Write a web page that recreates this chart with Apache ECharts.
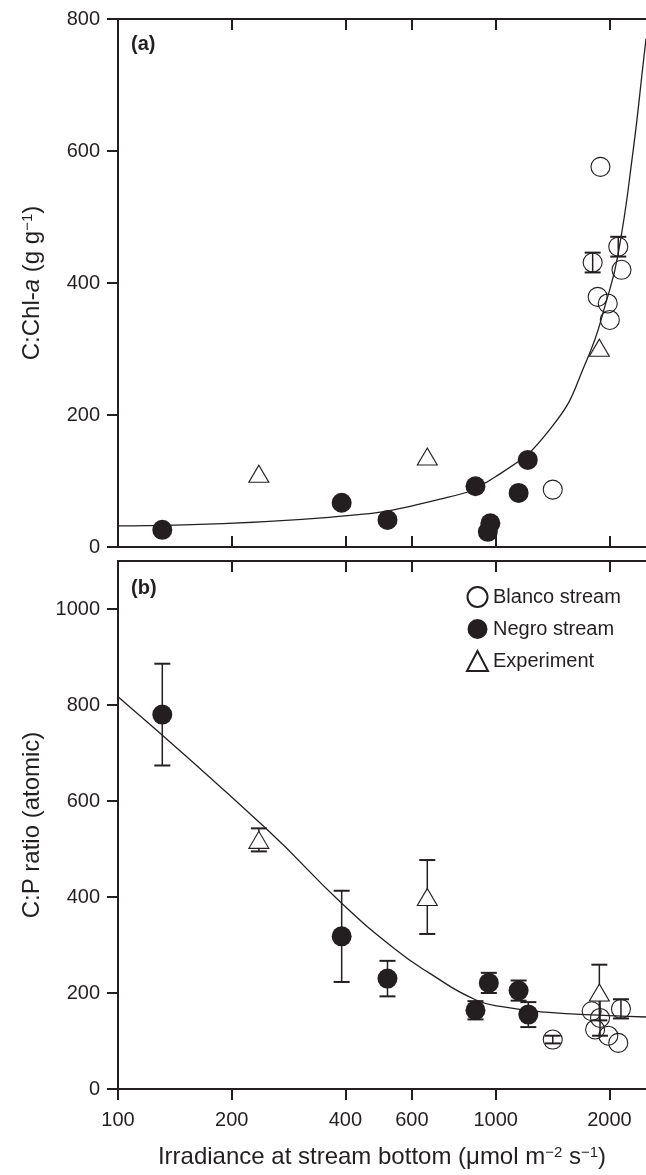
<!DOCTYPE html>
<html>
<head>
<meta charset="utf-8">
<script src="https://cdn.jsdelivr.net/npm/echarts@6/dist/echarts.min.js"></script>
<style>
  html, body { margin: 0; padding: 0; background: #ffffff; }
  #chart { width: 646px; height: 1175px; }
</style>
</head>
<body>
<div id="chart"></div>
<script>
// x values are irradiance at stream bottom (umol m-2 s-1), drawn on a log10 scale

// panel (a) C:Chl-a
const irrNegroA = [131, 391, 517, 884, 968, 953, 1150, 1216];
const chlNegro = [26, 67, 41, 92, 36, 23, 82, 132];
const irrBlancoA = [1416, 1894, 2111, 1806, 2153, 1862, 1980, 2005];
const chlBlanco = [87, 576, 455, 431, 420, 379, 369, 344];
const chlBlancoErr = [0, 0, 15, 15, 0, 0, 0, 0];
const irrExpA = [236, 659, 1881];
const chlExp = [111, 137, 302];
const fitAX = [100, 362, 707, 996, 1408, 1742, 1967, 2111, 2312, 2458, 2500];
const fitAY = [32, 45, 72, 106, 182, 283, 374, 445, 601, 733, 770];

// panel (b) C:P ratio
const irrNegroB = [131, 391, 517, 884, 959, 1150, 1220];
const cpNegro = [780, 318, 230, 164, 221, 205, 155];
const cpNegroErr = [106, 95, 37, 19, 21, 21, 26];
const irrBlancoB = [1416, 1795, 1889, 2146, 1833, 1987, 2111];
const cpBlanco = [103, 162, 148, 167, 124, 111, 96];
const cpBlancoErr = [8, 0, 37, 20, 0, 0, 0];
const irrExpB = [236, 659, 1881];
const cpExp = [519, 400, 201];
const cpExpErr = [24, 77, 58];
const fitBX = [100, 247, 391, 544, 666, 884, 1070, 1352, 2000, 2500];
const fitBY = [817, 542, 387, 290, 242, 186, 170, 160, 153, 150];

// tick labels
const xTicks = [100, 200, 400, 600, 1000, 2000];
const yTicksA = [0, 200, 400, 600, 800];
const yTicksB = [0, 200, 400, 600, 800, 1000];

const X_MIN = 100;
const X_MAX = 2500;
const INK = '#231f20';
const FONT = 'Liberation Sans';

const lg = v => Math.log10(v);
const pts = (xs, ys) => xs.map((x, i) => [lg(x), ys[i]]);
const errs = (xs, ys, es) => xs
    .map((x, i) => [lg(x), ys[i] - es[i], ys[i] + es[i]])
    .filter((d, i) => es[i] > 0);

const chart = echarts.init(document.getElementById('chart'), null, { renderer: 'canvas' });

function errRender(params, api) {
    const x = api.value(0);
    const lo = api.coord([x, api.value(1)]);
    const hi = api.coord([x, api.value(2)]);
    const w = 8;
    const cap = { stroke: INK, lineWidth: 2 };
    return {
        type: 'group',
        children: [
            { type: 'line', shape: { x1: hi[0], y1: hi[1], x2: lo[0], y2: lo[1] }, style: { stroke: INK, lineWidth: 1.5 } },
            { type: 'line', shape: { x1: hi[0] - w, y1: hi[1], x2: hi[0] + w, y2: hi[1] }, style: cap },
            { type: 'line', shape: { x1: lo[0] - w, y1: lo[1], x2: lo[0] + w, y2: lo[1] }, style: cap }
        ]
    };
}

const xTickVals = xTicks.map(lg);

function xAxis(gridIndex, position, inside, showLabel) {
    return {
        type: 'value',
        gridIndex: gridIndex,
        position: position,
        min: lg(X_MIN),
        max: lg(X_MAX),
        axisLine: { show: true, onZero: false, lineStyle: { color: INK, width: 2 } },
        axisTick: { show: true, inside: inside, length: 11, customValues: xTickVals, lineStyle: { color: INK, width: 2 } },
        axisLabel: {
            show: showLabel,
            customValues: xTickVals,
            margin: 21,
            color: INK,
            fontFamily: FONT,
            fontSize: 20,
            formatter: v => String(Math.round(Math.pow(10, v)))
        },
        splitLine: { show: false }
    };
}

const nameRich = {
    n: { fontFamily: FONT, fontSize: 24, color: INK },
    i: { fontFamily: FONT, fontSize: 24, color: INK, fontStyle: 'italic' },
    s: { fontFamily: FONT, fontSize: 15, color: INK, verticalAlign: 'top' }
};

function yAxis(gridIndex, max, ticks, name) {
    return {
        type: 'value',
        gridIndex: gridIndex,
        min: 0,
        max: max,
        interval: 200,
        name: name,
        nameLocation: 'middle',
        nameGap: 74,
        nameTextStyle: { rich: nameRich },
        axisLine: { show: true, lineStyle: { color: INK, width: 2 } },
        axisTick: { show: true, length: 11, customValues: ticks, lineStyle: { color: INK, width: 2 } },
        axisLabel: {
            customValues: ticks, margin: 18, color: INK, fontFamily: FONT, fontSize: 20,
            formatter: v => String(v)
        },
        splitLine: { show: false }
    };
}

const openCircle = { color: 'transparent', borderColor: INK, borderWidth: 1.1, opacity: 1 };
const filledCircle = { color: INK, opacity: 1 };
const openTri = { color: '#ffffff', borderColor: INK, borderWidth: 1.1, opacity: 1 };

const option = {
    backgroundColor: '#ffffff',
    animation: false,
    title: [
        { text: '(a)', left: 126, top: 29, textStyle: { fontFamily: FONT, fontSize: 20, fontWeight: 'bold', color: INK } },
        { text: '(b)', left: 126, top: 573, textStyle: { fontFamily: FONT, fontSize: 20, fontWeight: 'bold', color: INK } }
    ],
    legend: {
        data: ['Blanco stream', 'Negro stream', 'Experiment'],
        orient: 'vertical',
        left: 461,
        top: 581,
        itemWidth: 21,
        itemHeight: 20,
        itemGap: 11,
        textStyle: { fontFamily: FONT, fontSize: 20, color: INK }
    },
    grid: [
        { left: 118, top: 19, width: 530, height: 528 },
        { left: 118, top: 561, width: 530, height: 528 }
    ],
    xAxis: [
        xAxis(0, 'bottom', true, false),
        xAxis(0, 'top', true, false),
        xAxis(1, 'top', true, false),
        Object.assign(xAxis(1, 'bottom', false, true), {
            name: '{n|Irradiance at stream bottom (μmol m}{s|−2}{n| s}{s|−1}{n|)}',
            nameLocation: 'middle',
            nameGap: 56,
            nameTextStyle: { rich: nameRich }
        })
    ],
    yAxis: [
        yAxis(0, 800, yTicksA, '{n|C:Chl-}{i|a}{n| (g g}{s|−1}{n|)}'),
        yAxis(1, 1100, yTicksB, '{n|C:P ratio (atomic)}')
    ],
    series: [
        // panel (a)
        {
            type: 'line', name: 'fitA', xAxisIndex: 0, yAxisIndex: 0,
            data: pts(fitAX, fitAY), smooth: 0.5, showSymbol: false,
            lineStyle: { color: INK, width: 1.3 }, z: 3
        },
        {
            type: 'custom', name: 'errA', xAxisIndex: 0, yAxisIndex: 0,
            renderItem: errRender, encode: { x: 0, y: [1, 2] },
            data: errs(irrBlancoA, chlBlanco, chlBlancoErr), z: 2
        },
        {
            type: 'scatter', name: 'Blanco stream', xAxisIndex: 0, yAxisIndex: 0,
            data: pts(irrBlancoA, chlBlanco), symbol: 'circle', symbolSize: 19,
            itemStyle: openCircle, z: 4
        },
        {
            type: 'scatter', name: 'Negro stream', xAxisIndex: 0, yAxisIndex: 0,
            data: pts(irrNegroA, chlNegro), symbol: 'circle', symbolSize: 20,
            itemStyle: filledCircle, z: 4
        },
        {
            type: 'scatter', name: 'Experiment', xAxisIndex: 0, yAxisIndex: 0,
            data: pts(irrExpA, chlExp), symbol: 'triangle', symbolSize: [20, 17],
            itemStyle: openTri, z: 4
        },
        // panel (b)
        {
            type: 'line', name: 'fitB', xAxisIndex: 3, yAxisIndex: 1,
            data: pts(fitBX, fitBY), smooth: 0.5, showSymbol: false,
            lineStyle: { color: INK, width: 1.3 }, z: 3
        },
        {
            type: 'custom', name: 'errB', xAxisIndex: 3, yAxisIndex: 1,
            renderItem: errRender, encode: { x: 0, y: [1, 2] },
            data: errs(irrNegroB, cpNegro, cpNegroErr)
                .concat(errs(irrBlancoB, cpBlanco, cpBlancoErr))
                .concat(errs(irrExpB, cpExp, cpExpErr)),
            z: 2
        },
        {
            type: 'scatter', name: 'Blanco stream', xAxisIndex: 3, yAxisIndex: 1,
            data: pts(irrBlancoB, cpBlanco), symbol: 'circle', symbolSize: 19,
            itemStyle: openCircle, z: 4
        },
        {
            type: 'scatter', name: 'Negro stream', xAxisIndex: 3, yAxisIndex: 1,
            data: pts(irrNegroB, cpNegro), symbol: 'circle', symbolSize: 20,
            itemStyle: filledCircle, z: 4
        },
        {
            type: 'scatter', name: 'Experiment', xAxisIndex: 3, yAxisIndex: 1,
            data: pts(irrExpB, cpExp), symbol: 'triangle', symbolSize: [20, 17],
            itemStyle: openTri, z: 4
        }
    ]
};

chart.setOption(option);
</script>
</body>
</html>
